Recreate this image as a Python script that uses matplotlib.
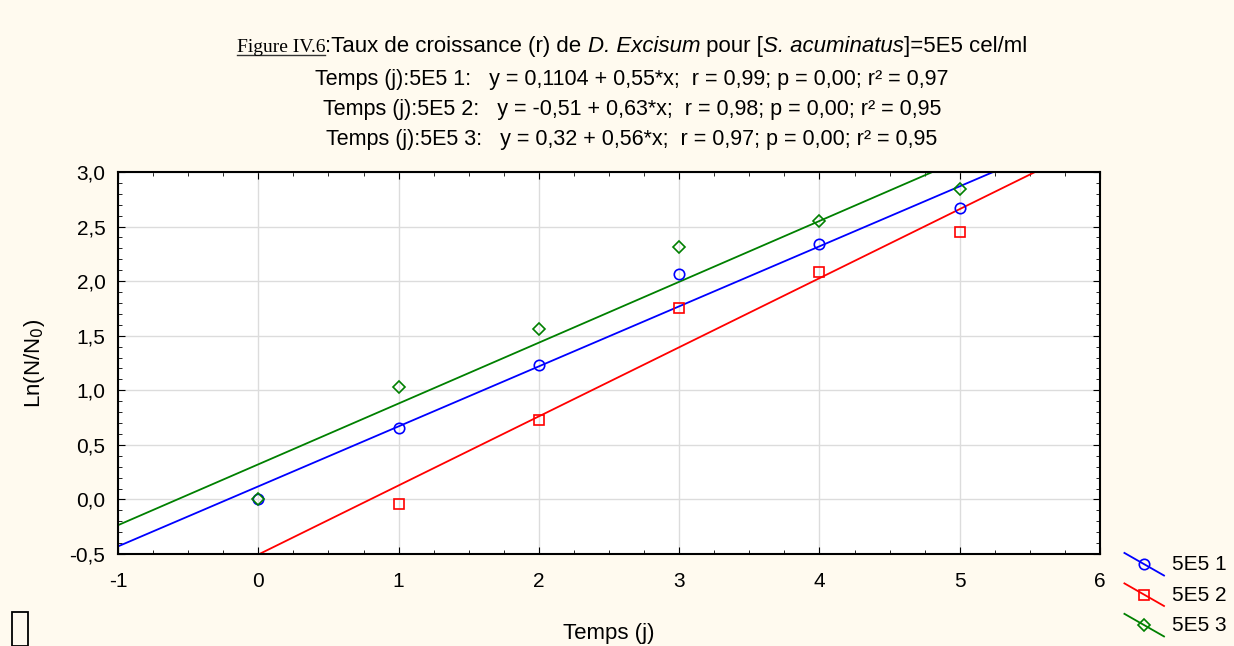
import numpy as np
import matplotlib
matplotlib.use("Agg")
import matplotlib.pyplot as plt
from matplotlib.lines import Line2D
from matplotlib.legend_handler import HandlerLine2D
from matplotlib.patches import Rectangle

# data
temps = [0, 1, 2, 3, 4, 5]
s1 = [0.00, 0.655, 1.23, 2.07, 2.34, 2.67]
temps2 = [1, 2, 3, 4, 5]
s2 = [-0.04, 0.73, 1.75, 2.08, 2.45]
s3 = [0.00, 1.03, 1.56, 2.31, 2.55, 2.84]
labels = ["5E5 1", "5E5 2", "5E5 3"]
equations = [
    "Temps (j):5E5 1:   y = 0,1104 + 0,55*x;  r = 0,99; p = 0,00; r² = 0,97",
    "Temps (j):5E5 2:   y = -0,51 + 0,63*x;  r = 0,98; p = 0,00; r² = 0,95",
    "Temps (j):5E5 3:   y = 0,32 + 0,56*x;  r = 0,97; p = 0,00; r² = 0,95",
]
colors = ["#0000ff", "#ff0000", "#008000"]
markers = ["o", "s", "D"]

bg = "#fffaef"
plt.rcParams['font.family'] = ['Liberation Sans', 'DejaVu Sans']

fig = plt.figure(figsize=(12.34, 6.46), dpi=100, facecolor=bg)
ax = fig.add_axes([118/1234, 1 - 554/646, (1100-118)/1234, (554-172)/646])
ax.set_facecolor("white")

xx = np.linspace(-1, 6, 50)
series = [(temps, s1), (temps2, s2), (temps, s3)]
for (x, y), c, m, lab in zip(series, colors, markers, labels):
    k, b = np.polyfit(x, y, 1)
    ax.plot(xx, k * xx + b, color=c, lw=1.3, zorder=2)
    ms = 7.5 if m != "D" else 6.5
    ax.plot(x, y, ls="none", marker=m, mfc="none", mec=c, ms=ms, mew=1.2, zorder=3)
    ax.plot([], [], color=c, lw=1.3, marker=m, mfc="none", mec=c, ms=ms, mew=1.2, label=lab)

ax.set_xlim(-1, 6)
ax.set_ylim(-0.5, 3.0)
ax.set_xticks(range(-1, 7))
ax.set_yticks(np.arange(-0.5, 3.01, 0.5))
ax.set_xticks(np.arange(-1, 6.01, 0.25), minor=True)
ax.set_yticks(np.arange(-0.5, 3.01, 0.1), minor=True)
ax.set_xticklabels([str(v) for v in range(-1, 7)])
ax.set_yticklabels([f"{v:.1f}".replace(".", ",") for v in np.arange(-0.5, 3.01, 0.5)])
ax.tick_params(which="both", direction="in", top=True, right=True, labelsize=15)
ax.tick_params(axis="x", pad=13)
ax.tick_params(axis="y", pad=9)
ax.tick_params(which="major", length=5)
ax.tick_params(which="minor", length=3)
ax.grid(True, which="major", color="#dcdcdc", lw=1)
ax.set_axisbelow(True)
for sp in ax.spines.values():
    sp.set_linewidth(1.5)

ax.set_xlabel("Temps (j)", fontsize=16, labelpad=23)
ax.set_ylabel("Ln(N/N$_0$)", fontsize=16, labelpad=16)


class DiagHandler(HandlerLine2D):
    def create_artists(self, legend, orig_handle, xdescent, ydescent,
                       width, height, fontsize, trans):
        x0, x1 = -xdescent, -xdescent + width
        y0, y1 = -ydescent + height * 1.2, -ydescent - height * 0.35
        ln = Line2D([x0, x1], [y0, y1], color=orig_handle.get_color(), lw=1.3)
        mk = Line2D([(x0 + x1) / 2], [(y0 + y1) / 2], ls="none",
                    marker=orig_handle.get_marker(), mfc="none",
                    mec=orig_handle.get_markeredgecolor(),
                    ms=orig_handle.get_markersize(), mew=1.2)
        ln.set_transform(trans)
        mk.set_transform(trans)
        return [ln, mk]


fig.legend(loc="upper left", bbox_to_anchor=(1114/1234, 1 - 545/646),
           frameon=False, fontsize=15, handler_map={Line2D: DiagHandler()},
           handlelength=1.9, handletextpad=0.4, labelspacing=0.55, borderpad=0)

# title line with mixed fonts
fig.canvas.draw()
r = fig.canvas.get_renderer()
parts = [
    ("Figure IV.6", dict(family="Liberation Serif", fontsize=14)),
    (":Taux de croissance (r) de ", dict(fontsize=16)),
    ("D. Excisum", dict(fontsize=16, style="italic")),
    (" pour [", dict(fontsize=16)),
    ("S. acuminatus", dict(fontsize=16, style="italic")),
    ("]=5E5 cel/ml", dict(fontsize=16)),
]
ty = 1 - 52/646
texts = []
x = 0
for s, kw in parts:
    t = fig.text(x, ty, s, ha="left", va="baseline", **kw)
    w = t.get_window_extent(r).width
    texts.append((t, w))
    x += w / 1234
total = x
start = 632/1234 - total / 2
x = start
for t, w in texts:
    t.set_x(x)
    x += w / 1234
fw = texts[0][1] / 1234
fig.add_artist(Line2D([start, start + fw], [ty - 3/646, ty - 3/646],
                      transform=fig.transFigure, color="#333333", lw=1))

for i, eq in enumerate(equations):
    fig.text(632/1234, 1 - (85 + 30 * i)/646, eq, ha="center", va="baseline", fontsize=15.5)

# empty glyph box bottom left
fig.add_artist(Rectangle((12/1234, 0), 16/1234, 34/646, transform=fig.transFigure,
                         fill=False, ec="black", lw=1.3))

fig.savefig("out.png", dpi=100, facecolor=bg)
